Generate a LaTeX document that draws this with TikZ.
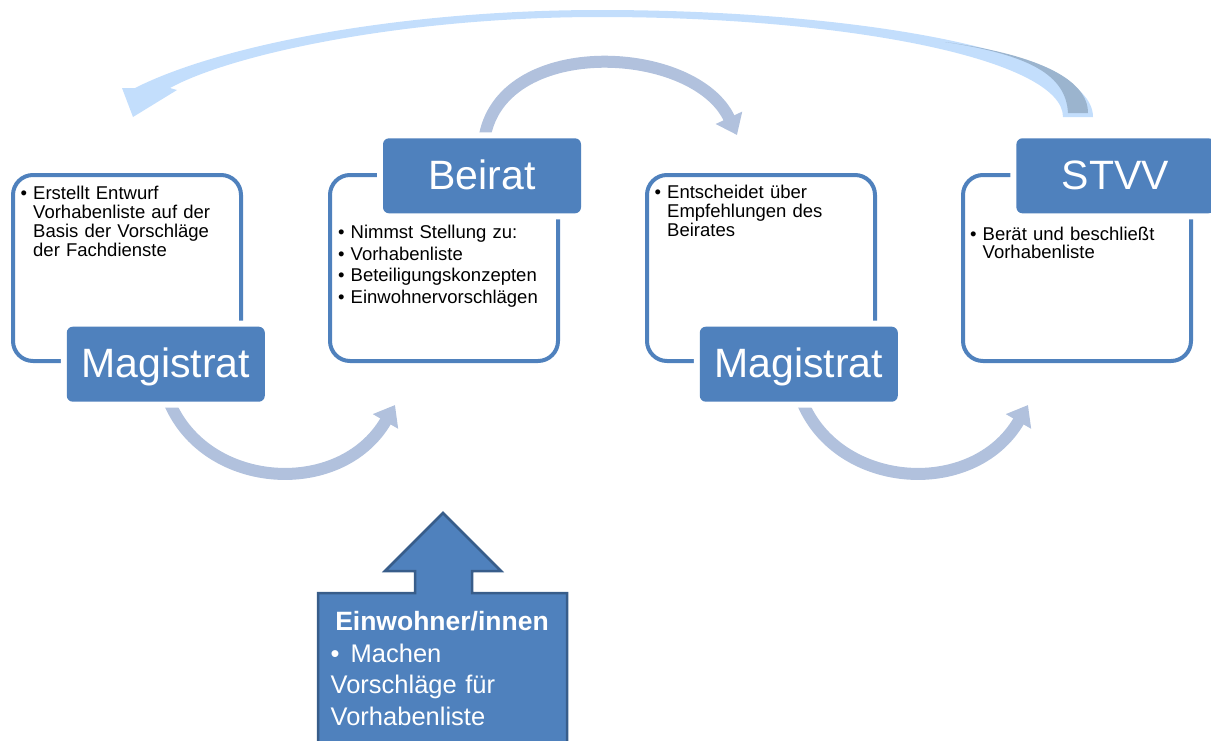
\documentclass[tikz,border=0pt]{standalone}
\usepackage{fontspec}
\setmainfont{Liberation Sans}
\usepackage{xcolor}
\usetikzlibrary{arrows.meta, positioning}
\definecolor{boxblue}{RGB}{79,129,189}
\definecolor{boxedge}{RGB}{56,93,138}
\definecolor{flowblue}{RGB}{177,193,221}
\definecolor{backblue}{RGB}{195,222,252}
\definecolor{backshade}{RGB}{155,180,206}
\def\bulletmark{\makebox[12.5pt][l]{\textbullet}}
\def\bulletgap{\hspace*{12.5pt}}

\begin{document}
\begin{tikzpicture}[x=1pt, y=-1pt,
    card/.style={draw=boxblue, line width=4pt, rounded corners=20pt, minimum width=228pt, minimum height=186pt, inner sep=0pt},
    tag/.style={fill=boxblue, text=white, rounded corners=6pt, minimum width=198pt, minimum height=75pt, inner sep=0pt,
                text height=27pt, text depth=0pt,
                font=\fontsize{41}{41}\selectfont, preaction={draw=white, line width=12pt}},
    note/.style={anchor=base west, text width=215pt, align=left, inner sep=0pt, font=\fontsize{18.5}{19.3}\selectfont},
    flow/.style={draw=flowblue, line width=12pt, -{Triangle[length=19pt, width=28pt]}}]
  \useasboundingbox (0,0) rectangle (1211,740);

  % return arrow STVV -> Magistrat
  \fill[backblue] (1093,117) .. controls (1093,50) and (850,10) .. (600,10)
        .. controls (400,10) and (220,45) .. (135,88) -- (122,88) -- (133,117) -- (177,90) -- (170,88)
        .. controls (230,55) and (400,17) .. (600,17) .. controls (850,17) and (1063,60) .. (1063,117) -- cycle;
  \fill[backshade] (1068,113) .. controls (1066,75) and (1030,55) .. (945,42)
        .. controls (1040,55) and (1088,80) .. (1088,113) -- cycle;

  \coordinate (flow1s) at (167,396);  \coordinate (flow1e) at (395,405);
  \coordinate (flow2s) at (485,135);  \coordinate (flow2e) at (737,135);
  \coordinate (flow3s) at (800,396);  \coordinate (flow3e) at (1028,405);
  \draw[flow] (flow1s) .. controls (200,490) and (340,500) .. (flow1e);
  \draw[flow] (flow2s) .. controls (505,35) and (695,45) .. (flow2e);
  \draw[flow] (flow3s) .. controls (833,490) and (973,500) .. (flow3e);

  \node[card] (card1) at (127,268) {};
  \node[card] (card2) at (444,268) {};
  \node[card] (card3) at (761,268) {};
  \node[card] (card4) at (1077,268) {};

  \node[tag] (mag1) at (165.8,364.2) {Magistrat};
  \node[tag] (beirat) at (482,175.8) {Beirat};
  \node[tag] (mag2) at (798.8,364.2) {Magistrat};
  \node[tag] (stvv) at (1115.4,175.8) {STVV};

  \node[note] (note1) at (20.5,199) {\bulletmark Erstellt Entwurf\\\bulletgap Vorhabenliste auf der\\\bulletgap Basis der Vorschläge\\\bulletgap der Fachdienste};
  \node[note, font=\fontsize{18.5}{21.7}\selectfont] (note2) at (338,238.3) {\bulletmark Nimmst Stellung zu:\\\bulletmark Vorhabenliste\\\bulletmark Beteiligungskonzepten\\\bulletmark Einwohnervorschlägen};
  \node[note, font=\fontsize{18.5}{19}\selectfont] (note3) at (654.5,198.3) {\bulletmark Entscheidet über\\\bulletgap Empfehlungen des\\\bulletgap Beirates};
  \node[note, font=\fontsize{18.5}{18.8}\selectfont] (note4) at (970,240) {\bulletmark Berät und beschließt\\\bulletgap Vorhabenliste};

  % citizens push up into the Beirat
  \draw[fill=boxblue, draw=boxedge, line width=2.5pt] (318,750) -- (318,593) -- (415,593) -- (415,571) -- (385,571) -- (443,513)
        -- (501,571) -- (472,571) -- (472,593) -- (567,593) -- (567,750) -- cycle;
  \node[anchor=base, text=white, inner sep=0pt, font=\bfseries\fontsize{26.5}{26.5}\selectfont] (citizens) at (442,630) {Einwohner/innen};
  \node[anchor=base west, text=white, inner sep=0pt, text width=235pt, align=left, font=\fontsize{25.5}{31.5}\selectfont] (citizenstext) at (330.5,662)
        {\makebox[20pt][l]{\textbullet}Machen\\Vorschläge für\\Vorhabenliste};
\end{tikzpicture}
\end{document}
